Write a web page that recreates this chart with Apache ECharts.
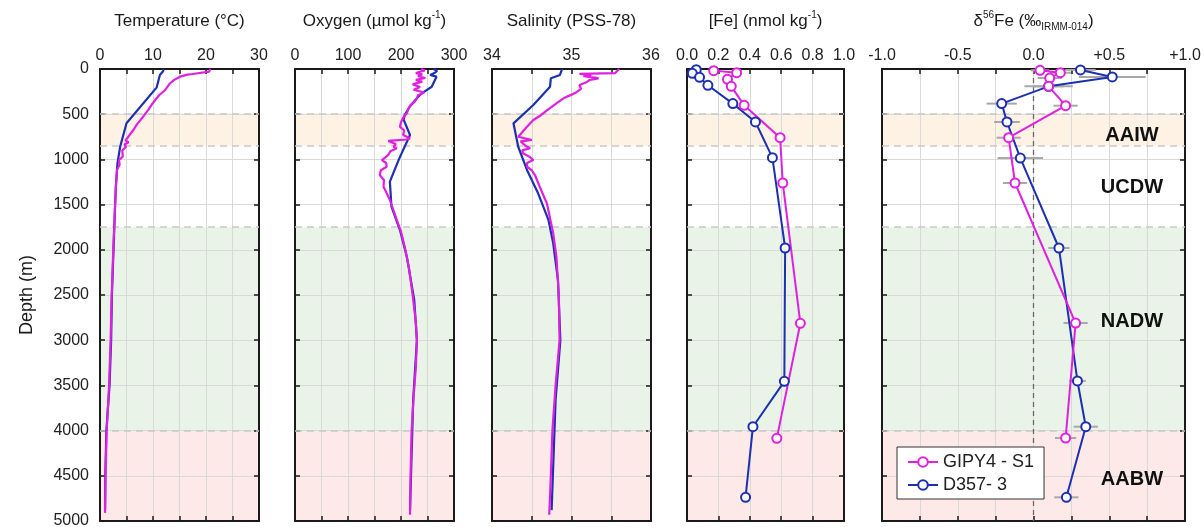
<!DOCTYPE html>
<html>
<head>
<meta charset="utf-8">
<title>Depth profiles</title>
<script src="https://cdn.jsdelivr.net/npm/echarts/dist/echarts.min.js"></script>
<style>
html, body { margin: 0; padding: 0; background: #fff; }
#main { width: 1204px; height: 527px; }
</style>
</head>
<body>
<div id="main"></div>
<script>
// ---- data (GIPY4 - S1 = magenta, D357- 3 = blue) ----
var nameA = 'GIPY4 - S1';
var nameB = 'D357- 3';

// temperature (°C)
var tempDepthA = [0, 30, 50, 55, 62, 85, 120, 160, 232, 288, 343, 400, 453, 546, 610, 675, 749, 790, 810, 835, 860, 900, 970, 1007, 1060, 1117, 1300, 1504, 2002, 2518, 2998, 3514, 4012, 4500, 4910];
var tempA = [20.8, 20.6, 20.4, 17.5, 16.5, 15.1, 14.0, 13.2, 12.3, 11.2, 10.4, 9.7, 9.1, 7.9, 7.0, 6.3, 5.35, 4.8, 5.4, 4.6, 4.9, 4.2, 4.3, 3.6, 3.7, 3.2, 3.0, 2.85, 2.5, 2.2, 2.0, 1.7, 1.25, 1.05, 0.95];
var tempDepthB = [0, 25, 66, 203, 600, 860, 1043, 1300, 1500, 2000, 2500, 3000, 3500, 4000, 4500, 4880];
var tempB = [12.0, 11.9, 11.3, 10.7, 5.0, 3.8, 3.3, 3.0, 2.85, 2.55, 2.25, 2.1, 1.8, 1.2, 1.0, 0.95];

// oxygen (µmol/kg)
var oxyDepthA = [0, 15, 30, 45, 60, 80, 100, 120, 140, 170, 200, 230, 260, 290, 324, 360, 400, 440, 490, 540, 590, 638, 680, 730, 767, 780, 795, 804, 830, 860, 877, 910, 950, 980, 1007, 1040, 1081, 1120, 1173, 1230, 1302, 1360, 1449, 1550, 1670, 1800, 1966, 2200, 2500, 2800, 3000, 3300, 3600, 4000, 4500, 4930];
var oxyA = [238, 245, 242, 228, 240, 232, 246, 228, 240, 222, 236, 224, 244, 232, 230, 226, 218, 214, 211, 204, 200, 198, 206, 204, 217, 210, 176, 173, 190, 186, 192, 180, 176, 170, 164, 172, 173, 162, 160, 168, 167, 172, 179, 185, 192, 200, 207, 215, 222, 228, 230, 228, 224, 220, 218, 217];
var oxyDepthB = [0, 20, 41, 66, 85, 103, 196, 269, 324, 420, 509, 560, 730, 1000, 1246, 1523, 1781, 2076, 2555, 3000, 3660, 4880];
var oxyB = [261, 268, 264, 255, 267, 266, 258, 239, 230, 216, 207, 205, 217, 196, 179, 182, 198, 211, 225, 230, 223, 217];

// salinity (PSS-78)
var salDepthA = [0, 18, 45, 55, 65, 80, 95, 103, 122, 150, 177, 220, 269, 300, 324, 380, 420, 472, 520, 564, 638, 700, 749, 785, 800, 822, 850, 877, 900, 933, 970, 1007, 1040, 1081, 1120, 1173, 1302, 1486, 1818, 2076, 2500, 3000, 3500, 4000, 4500, 4930];
var salA = [35.6, 35.61, 35.55, 35.1, 35.25, 35.15, 35.3, 35.34, 35.23, 35.18, 35.1, 35.12, 35.04, 34.96, 34.9, 34.81, 34.75, 34.67, 34.6, 34.52, 34.44, 34.38, 34.33, 34.5, 34.36, 34.35, 34.42, 34.48, 34.38, 34.39, 34.47, 34.52, 34.44, 34.44, 34.5, 34.54, 34.6, 34.69, 34.77, 34.81, 34.84, 34.85, 34.8, 34.76, 34.74, 34.72];
var salDepthB = [0, 30, 66, 103, 196, 398, 601, 860, 1117, 1375, 1670, 1928, 2334, 3000, 3660, 4880];
var salB = [34.88, 34.87, 34.855, 34.74, 34.73, 34.52, 34.27, 34.33, 34.44, 34.58, 34.71, 34.77, 34.83, 34.86, 34.8, 34.75];

// dissolved Fe (nmol/kg)
var feDepthA = [18, 41, 114, 192, 402, 760, 1261, 2813, 4086];
var feA = [0.17, 0.316, 0.258, 0.282, 0.364, 0.593, 0.61, 0.722, 0.572];
var feDepthB = [8, 48, 92, 180, 383, 586, 981, 1980, 3455, 3957, 4738];
var feB = [0.059, 0.034, 0.08, 0.133, 0.292, 0.436, 0.544, 0.625, 0.62, 0.42, 0.373];

// d56Fe (permil) and 2SD
var isoDepthA = [15, 41, 100, 192, 406, 760, 1261, 2810, 4082];
var isoA = [0.043, 0.177, 0.107, 0.10, 0.212, -0.164, -0.122, 0.278, 0.212];
var isoErrA = [0.06, 0.07, 0.08, 0.1, 0.08, 0.08, 0.08, 0.08, 0.07];
var isoDepthB = [10, 88, 192, 383, 586, 985, 1980, 3451, 3957, 4738];
var isoB = [0.31, 0.52, 0.10, -0.21, -0.175, -0.087, 0.168, 0.29, 0.345, 0.217];
var isoErrB = [0.1, 0.22, 0.16, 0.1, 0.085, 0.15, 0.07, 0.055, 0.08, 0.08];

// water masses
var bandEdges = [490, 850, 1750, 4000, 5000];
var zoneNames = ['AAIW', 'UCDW', 'NADW', 'AABW'];
var zoneLabelDepth = [730, 1316, 2788, 4546];
var zoneLabelIso = 0.65;

// ---- styling ----
var FONT = '"Liberation Sans", Arial, Helvetica, sans-serif';
var COL_A = '#e01fe0';
var COL_B = '#1c30b0';
var INK = '#1a1a1a';

function pairs(xs, ys) {
    return xs.map(function (x, k) { return [x, ys[k]]; });
}
function fmtStep(step) {
    return function (v) {
        var r = v / step;
        return Math.abs(r - Math.round(r)) < 1e-6 ? String(Math.round(v)) : '';
    };
}

var rich = {
    t: { fontSize: 17, color: INK, fontFamily: FONT, lineHeight: 22 },
    s: { fontSize: 10, color: INK, fontFamily: FONT, lineHeight: 10, verticalAlign: 'top' },
    b: { fontSize: 10, color: INK, fontFamily: FONT, lineHeight: 10, verticalAlign: 'bottom' }
};

var panels = [
    { left: 100, width: 159, min: 0, max: 30, interval: 5, name: '{t|Temperature (°C)}', fmt: fmtStep(10) },
    { left: 295, width: 159, min: 0, max: 300, interval: 50, name: '{t|Oxygen (µmol kg}{s|-1}{t|)}', fmt: fmtStep(100) },
    { left: 492, width: 159, min: 34, max: 36, interval: 0.5, name: '{t|Salinity (PSS-78)}', fmt: fmtStep(1) },
    { left: 687, width: 157, min: 0, max: 1, interval: 0.2, name: '{t|[Fe] (nmol kg}{s|-1}{t|)}',
      fmt: function (v) { return v.toFixed(1); } },
    { left: 882, width: 303, min: -1, max: 1, interval: 0.25, name: '{t|δ}{s|56}{t|Fe (‰}{b|IRMM-014}{t|)}',
      fmt: function (v) {
          var r = v * 2;
          if (Math.abs(r - Math.round(r)) > 1e-6) return '';
          return (v > 0 ? '+' : '') + v.toFixed(1);
      } }
];

var lineSt = { color: INK, width: 2 };
var tickSt = { show: true, inside: true, length: 5, lineStyle: { color: INK, width: 1.5 } };
var gridLine = { show: true, lineStyle: { color: '#d9d9d9', width: 1 } };

var grids = [], xAxes = [], yAxes = [], series = [];

panels.forEach(function (p, i) {
    grids.push({ left: p.left, top: 69, width: p.width, height: 452, show: false, outerBoundsMode: 'none' });
    xAxes.push({
        type: 'value', gridIndex: i, position: 'top', min: p.min, max: p.max, interval: p.interval,
        name: p.name, nameLocation: 'middle', nameGap: 37,
        nameTextStyle: { rich: rich },
        axisLine: { show: true, onZero: false, lineStyle: lineSt },
        axisTick: tickSt,
        axisLabel: { show: true, formatter: p.fmt, fontSize: 16, color: '#222', margin: 5, fontFamily: FONT },
        splitLine: gridLine, z: 3
    });
    xAxes.push({
        type: 'value', gridIndex: i, position: 'bottom', min: p.min, max: p.max, interval: p.interval,
        axisLine: { show: true, onZero: false, lineStyle: lineSt },
        axisTick: tickSt, axisLabel: { show: false }, splitLine: { show: false }, z: 3
    });
    yAxes.push({
        type: 'value', gridIndex: i, position: 'left', inverse: true, min: 0, max: 5000, interval: 500,
        name: i === 0 ? 'Depth (m)' : '', nameLocation: 'middle', nameGap: 64, nameRotate: 90,
        nameTextStyle: { fontSize: 18, color: INK, fontFamily: FONT },
        axisLine: { show: true, onZero: false, lineStyle: lineSt },
        axisTick: tickSt,
        axisLabel: { show: i === 0, fontSize: 16, color: '#222', margin: 11, fontFamily: FONT,
                     formatter: function (v) { return String(v); } },
        splitLine: gridLine, z: 3
    });
    yAxes.push({
        type: 'value', gridIndex: i, position: 'right', inverse: true, min: 0, max: 5000, interval: 500,
        axisLine: { show: true, onZero: false, lineStyle: lineSt },
        axisTick: tickSt, axisLabel: { show: false }, splitLine: { show: false }, z: 3
    });

    // water-mass bands
    series.push({
        type: 'line', name: 'bands' + i, xAxisIndex: 2 * i, yAxisIndex: 2 * i, data: [], z: 1, silent: true,
        markArea: {
            silent: true, label: { show: false },
            data: [
                [{ yAxis: bandEdges[0], itemStyle: { color: '#fdf2e3' } }, { yAxis: bandEdges[1] }],
                [{ yAxis: bandEdges[2], itemStyle: { color: '#e9f3e8' } }, { yAxis: bandEdges[3] }],
                [{ yAxis: bandEdges[3], itemStyle: { color: '#fde9e8' } }, { yAxis: bandEdges[4] }]
            ]
        },
        markLine: {
            silent: true, symbol: ['none', 'none'], label: { show: false },
            lineStyle: { type: [7, 5], color: '#c9c9c9', width: 1.5 },
            data: bandEdges.slice(0, 4).map(function (d) { return { yAxis: d }; })
        }
    });
});

function ctd(name, color, i, xs, ds) {
    return {
        type: 'line', name: name, xAxisIndex: 2 * i, yAxisIndex: 2 * i, z: 10,
        showSymbol: false, symbol: 'none', silent: true,
        lineStyle: { color: color, width: 2.2 },
        data: pairs(xs, ds)
    };
}
function pts(name, color, i, xs, ds) {
    return {
        type: 'line', name: name, xAxisIndex: 2 * i, yAxisIndex: 2 * i, z: 10,
        symbol: 'emptyCircle', symbolSize: 9, showSymbol: true,
        itemStyle: { color: color, borderWidth: 1.8 },
        lineStyle: { color: color, width: 2 },
        data: pairs(xs, ds)
    };
}
function errBars(xs, ds, es) {
    return {
        type: 'custom', xAxisIndex: 8, yAxisIndex: 8, z: 6, silent: true,
        data: xs.map(function (x, k) { return [x, ds[k], es[k]]; }),
        encode: { x: 0, y: 1 },
        renderItem: function (params, api) {
            var v = api.value(0), d = api.value(1), e = api.value(2);
            var a = api.coord([v - e, d]), b = api.coord([v + e, d]);
            return { type: 'line', shape: { x1: a[0], y1: a[1], x2: b[0], y2: b[1] },
                     style: { stroke: '#a8a8a8', lineWidth: 2 } };
        }
    };
}

// zero line in d56Fe panel
series.push({
    type: 'line', name: 'zero', xAxisIndex: 8, yAxisIndex: 8, data: [], z: 4, silent: true,
    markLine: {
        silent: true, symbol: ['none', 'none'], label: { show: false },
        lineStyle: { type: [5, 4], color: '#6a6a6a', width: 1.3 },
        data: [{ xAxis: 0 }]
    }
});

series.push(pts(nameB, COL_B, 3, feB, feDepthB));
series.push(pts(nameA, COL_A, 3, feA, feDepthA));
series.push(errBars(isoB, isoDepthB, isoErrB));
series.push(errBars(isoA, isoDepthA, isoErrA));
series.push(pts(nameB, COL_B, 4, isoB, isoDepthB));
series.push(pts(nameA, COL_A, 4, isoA, isoDepthA));
series.push(ctd('ctdB0', COL_B, 0, tempB, tempDepthB));
series.push(ctd('ctdA0', COL_A, 0, tempA, tempDepthA));
series.push(ctd('ctdB1', COL_B, 1, oxyB, oxyDepthB));
series.push(ctd('ctdA1', COL_A, 1, oxyA, oxyDepthA));
series.push(ctd('ctdB2', COL_B, 2, salB, salDepthB));
series.push(ctd('ctdA2', COL_A, 2, salA, salDepthA));

var chart = echarts.init(document.getElementById('main'));
chart.setOption({
    animation: false,
    backgroundColor: '#fff',
    textStyle: { fontFamily: FONT },
    grid: grids,
    xAxis: xAxes,
    yAxis: yAxes,
    legend: {
        data: [nameA, nameB],
        left: 897, top: 447, orient: 'vertical',
        backgroundColor: '#fff', borderColor: '#333', borderWidth: 1,
        padding: [6, 10, 5, 10], itemGap: 5, itemWidth: 30, itemHeight: 12,
        textStyle: { fontSize: 18, color: '#222', fontFamily: FONT },
        selectedMode: false, z: 20
    },
    series: series
});

// water-mass names, placed through the d56Fe panel scales
chart.setOption({
    graphic: zoneNames.map(function (n, k) {
        var pt = chart.convertToPixel({ gridIndex: 4 }, [zoneLabelIso, zoneLabelDepth[k]]);
        return {
            type: 'text', x: pt[0], y: pt[1], z: 30,
            style: { text: n, font: 'bold 20px ' + FONT, fill: '#111',
                     align: 'center', verticalAlign: 'middle', textAlign: 'center', textVerticalAlign: 'middle' }
        };
    })
});
</script>
</body>
</html>
